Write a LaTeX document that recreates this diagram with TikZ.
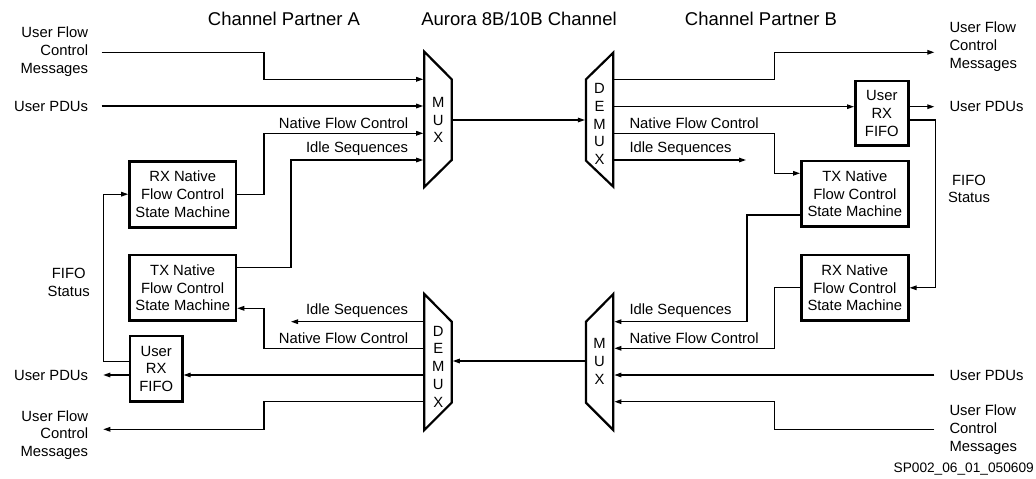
\documentclass[tikz,border=0pt]{standalone}
\usepackage{fontspec}
\setmainfont{Liberation Sans}
\usetikzlibrary{arrows.meta}
\newcommand\bodyfnt{\fontsize{14.8pt}{17.8pt}\selectfont}
\newcommand\headfnt{\fontsize{18.5pt}{22pt}\selectfont}
\newcommand\codefnt{\fontsize{13.7pt}{16pt}\selectfont}
\begin{document}
\begin{tikzpicture}[x=1pt,y=-1pt,
  wire/.style={line width=1.1pt},
  arr/.style={wire,-{Triangle[length=7pt,width=4.6pt]}},
  box/.style={draw,line width=2.6pt,align=center,inner sep=0pt,font=\bodyfnt},
  trap/.style={line width=2.2pt,line join=miter},
  lbl/.style={inner sep=0pt,font=\bodyfnt},
  hdr/.style={inner sep=0pt,font=\headfnt}]
\useasboundingbox (0,0) rectangle (1036,479);

% headers
\node[hdr] (hA) at (284,19) {Channel Partner A};
\node[hdr] (hC) at (519,19) {Aurora 8B/10B Channel};
\node[hdr] (hB) at (761,19) {Channel Partner B};
\node[inner sep=0pt,font=\codefnt] (code) at (963.7,469) {SP002\_06\_01\_050609};

% mux / demux shapes
\draw[trap] (424.3,51.7) -- (451.7,79.3) -- (451.7,160) -- (424.3,187) -- cycle;
\node[lbl,align=center] (muxAt) at (438.2,120) {M\\U\\X};
\draw[trap] (586,79.3) -- (613.3,52.7) -- (613.3,186.7) -- (586,160.7) -- cycle;
\node[lbl,align=center] (demBt) at (599.5,124) {D\\E\\M\\U\\X};
\draw[trap] (586,321.7) -- (613.3,294) -- (613.3,430) -- (586,402.7) -- cycle;
\node[lbl,align=center] (muxBt) at (599.5,361.7) {M\\U\\X};
\draw[trap] (424.3,294) -- (451.7,321.7) -- (451.7,402.7) -- (424.3,430) -- cycle;
\node[lbl,align=center] (demAt) at (438.2,366.7) {D\\E\\M\\U\\X};

% ports
\coordinate (mA1) at (423.2,79.3);
\coordinate (mA2) at (423.2,106);
\coordinate (mA3) at (423.2,133.3);
\coordinate (mA4) at (423.2,160);
\coordinate (mAo) at (451.7,120);
\coordinate (dBi) at (584.9,120);
\coordinate (dB1) at (613.3,79.3);
\coordinate (dB2) at (613.3,106.7);
\coordinate (dB3) at (613.3,133.3);
\coordinate (dB4) at (613.3,160);
\coordinate (mB1) at (614.4,321.7);
\coordinate (mB2) at (614.4,348.3);
\coordinate (mB3) at (614.4,375);
\coordinate (mB4) at (614.4,401.7);
\coordinate (mBo) at (586,361);
\coordinate (dAi) at (452.8,361);
\coordinate (dA1) at (424.3,321.7);
\coordinate (dA2) at (424.3,348.3);
\coordinate (dA3) at (424.3,375);
\coordinate (dA4) at (424.3,401.7);

% free ends
\coordinate (s1) at (101.7,52.3);
\coordinate (s2) at (101.7,106);
\coordinate (e1) at (934.3,52.3);
\coordinate (e2) at (934.3,106.7);
\coordinate (e3) at (746,160);
\coordinate (s3) at (934.3,375);
\coordinate (s4) at (934.3,429.3);
\coordinate (e4) at (291,321.7);
\coordinate (e5) at (103.3,375);
\coordinate (e6) at (103.3,429.3);

% boxes
\node[box,minimum width=106.5pt,minimum height=66pt] (RXA) at (182.7,194.2) {RX Native\\Flow Control\\State Machine};
\node[box,minimum width=106.5pt,minimum height=65.5pt] (TXA) at (182.7,287.8) {TX Native\\Flow Control\\State Machine};
\node[box,minimum width=52.3pt,minimum height=65.7pt] (FIFOA) at (156.2,368.8) {User\\RX\\FIFO};
\node[box,minimum width=53pt,minimum height=64.7pt] (FIFOB) at (881.8,113.3) {User\\RX\\FIFO};
\node[box,minimum width=107pt,minimum height=65.7pt] (TXB) at (854.8,193.8) {TX Native\\Flow Control\\State Machine};
\node[box,minimum width=107pt,minimum height=65.7pt] (RXB) at (854.8,287.8) {RX Native\\Flow Control\\State Machine};

% labels
\node[lbl,align=right,anchor=east] (lUFC1) at (88.3,51.7) {User Flow\\Control\\Messages};
\node[lbl,anchor=east] (lPDU1) at (88.3,106.7) {User PDUs};
\node[lbl,anchor=east] (lNFC1) at (408.3,123.3) {Native Flow Control};
\node[lbl,anchor=east] (lIdl1) at (408.3,149) {Idle Sequences};
\node[lbl,align=left,anchor=west] (rUFC1) at (949.3,46.7) {User Flow\\Control\\Messages};
\node[lbl,anchor=west] (rPDU1) at (949.3,106.7) {User PDUs};
\node[lbl,anchor=west] (rNFC1) at (629.3,123.3) {Native Flow Control};
\node[lbl,anchor=west] (rIdl1) at (629.3,149) {Idle Sequences};
\node[lbl,align=center] (rFS) at (969,189) {FIFO\\Status};
\node[lbl,anchor=west] (rIdl2) at (629.3,311) {Idle Sequences};
\node[lbl,anchor=west] (rNFC2) at (629.3,338.3) {Native Flow Control};
\node[lbl,anchor=west] (rPDU2) at (949.3,375) {User PDUs};
\node[lbl,align=left,anchor=west] (rUFC2) at (949.3,429.6) {User Flow\\Control\\Messages};
\node[lbl,anchor=east] (lIdl2) at (408.3,311) {Idle Sequences};
\node[lbl,anchor=east] (lNFC2) at (408.3,338.3) {Native Flow Control};
\node[lbl,align=center] (lFS) at (68.7,282.5) {FIFO\\Status};
\node[lbl,anchor=east] (lPDU2) at (88.3,375) {User PDUs};
\node[lbl,align=right,anchor=east] (lUFC2) at (88.3,435) {User Flow\\Control\\Messages};

% connectors: partner A transmit side
\draw[arr] (s1) -| (264,79.3) -- (mA1);
\draw[arr] (s2) -- (mA2);
\draw[arr] (RXA.east) -| (264,133.3) -- (mA3);
\draw[arr] ([yshift=20pt]TXA.east) -| (291,160) -- (mA4);
\draw[arr] (mAo) -- (dBi);

% partner B receive side
\draw[arr] (dB1) -| (774.3,52.3) -- (e1);
\draw[arr] (dB2) -- ([yshift=6.6pt]FIFOB.west);
\draw[arr] ([yshift=6.6pt]FIFOB.east) -- (e2);
\draw[arr] (dB3) -| (774.3,173.3) -- ([yshift=20.5pt]TXB.west);
\draw[arr] (dB4) -- (e3);
\draw[arr] ([yshift=-6.7pt]FIFOB.east) -| (935.3,287.8) -- (RXB.east);

% partner B transmit side
\draw[arr] ([yshift=-21.2pt]TXB.west) -| (747,321.7) -- (mB1);
\draw[arr] (RXB.west) -| (774.3,348.3) -- (mB2);
\draw[arr] (s3) -- (mB3);
\draw[arr] (s4) -| (774.3,401.7) -- (mB4);
\draw[arr] (mBo) -- (dAi);

% partner A receive side
\draw[arr] (dA1) -- (e4);
\draw[arr] (dA2) -| (264,308.3) -- ([yshift=-20.5pt]TXA.east);
\draw[arr] (dA3) -- ([yshift=-6.2pt]FIFOA.east);
\draw[arr] ([yshift=-6.2pt]FIFOA.west) -- (e5);
\draw[arr] ([yshift=7.1pt]FIFOA.west) -- ++(-25.4,0) |- (RXA.west);
\draw[arr] (dA4) -| (264,429.3) -- (e6);
\end{tikzpicture}
\end{document}
